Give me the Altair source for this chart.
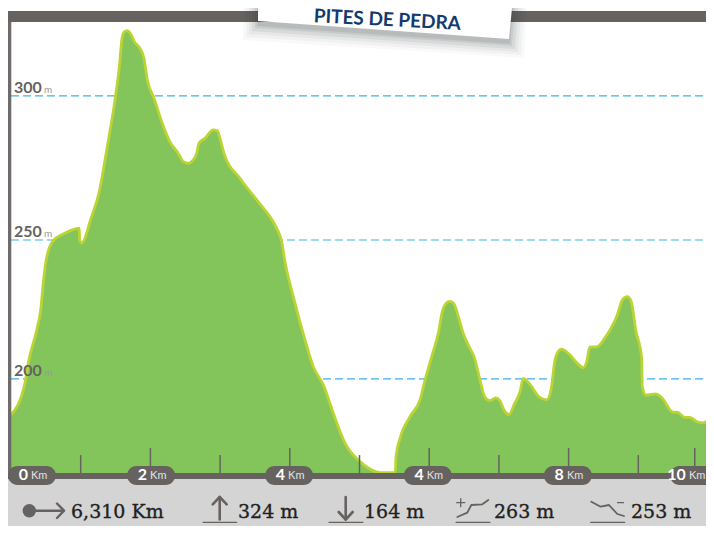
import altair as alt
import pandas as pd

# Elevation profile
km = [0.0,.201,.248,.369,.426,.463,.498,.549,.607,.750,.871,.980,.984,1.014,1.062,1.133,1.267,1.373,1.492,1.554,1.593,1.621,1.669,1.717,1.769,1.851,1.908,1.956,2.052,2.162,2.281,2.400,2.472,2.544,2.615,2.664,2.697,2.783,2.902,2.960,2.999,3.056,3.285,3.548,3.716,3.812,3.884,3.931,4.050,4.218,4.337,4.481,4.624,4.792,5.007,5.175,5.294,5.513,5.524,5.581,5.725,5.868,5.940,6.036,6.130,6.188,6.241,6.298,6.356,6.418,6.489,6.585,6.643,6.729,6.796,6.868,6.954,7.016,7.073,7.145,7.217,7.303,7.350,7.432,7.575,7.686,7.752,7.800,7.848,7.895,8.006,8.125,8.211,8.260,8.303,8.412,8.532,8.698,8.770,8.842,8.899,8.963,9.049,9.057,9.106,9.249,9.344,9.487,9.569,9.665,9.741,9.856,9.932,10.086]
elev = [187.3,198.6,205.6,217.3,224.4,233.9,241.0,246.3,248.8,251.2,252.6,253.3,249.1,248.0,249.8,255.6,266.2,280.9,298.6,310.3,320.4,322.5,323.1,321.9,319.2,316.8,313.3,305.6,299.2,290.9,283.8,279.7,276.8,276.2,277.4,279.7,283.3,285.0,288.0,287.7,285.0,279.7,270.9,262.6,257.3,253.2,248.5,241.4,229.1,213.8,204.3,197.9,187.9,177.3,170.8,167.8,166.9,166.9,172.5,179.0,186.7,192.6,199.6,207.9,216.1,223.8,226.7,227.4,226.5,222.0,216.1,210.8,207.9,199.6,193.7,192.3,193.3,192.3,189.0,187.4,190.8,195.5,200.2,198.5,193.7,192.6,196.7,206.1,209.6,210.5,208.8,205.5,204.0,206.1,211.2,211.4,214.9,222.6,227.9,229.1,227.3,217.3,207.3,197.3,194.3,194.7,193.2,188.4,188.2,186.4,186.4,184.7,184.5,188.4]

grid_values = [300, 249.1, 200]
grid_labels = ["300", "250", "200"]
tick_km = [1, 2, 3, 4, 5, 6, 7, 8, 9, 9.81]
tick_top = [173.1, 175.6, 173.1, 175.6, 173.1, 175.6, 173.1, 175.6, 173.1, 175.6]
pill_km = [0.30, 2.01, 3.99, 5.98, 7.99, 9.80]
pill_text = ["0", "2", "4", "4", "8", "10"]
stat_text = ["6,310 Km", "324 m", "164 m", "263 m", "253 m"]
stat_km = [0.861, 3.257, 5.065, 6.930, 8.895]
title_text = "PITES DE PEDRA"

FILL, LINE = "#84C55B", "#BBD433"
GREY, BLUE = "#666260", "#3FB0E3"

W, H = 698, 518
PAGE_R, PAGE_B = 8 + W, 8 + H
XD = [(8 - 11) / 69.7, (PAGE_R - 11) / 69.7]
YD = [333.9 - PAGE_B / 2.83, 333.9 - 8 / 2.83]
X = lambda f: alt.X(f, type="quantitative", scale=alt.Scale(domain=XD, nice=False), axis=None)
Y = lambda f: alt.Y(f, type="quantitative", scale=alt.Scale(domain=YD, nice=False), axis=None)
K = lambda x: (x - 11) / 69.7
M = lambda y: 333.9 - y / 2.83


def poly_line(pts, color=GREY, w=2.0):
    df = pd.DataFrame({"x": [K(p[0]) for p in pts], "y": [M(p[1]) for p in pts], "o": range(len(pts))})
    return alt.Chart(df).mark_line(color=color, strokeWidth=w, strokeCap="round", strokeJoin="round").encode(
        x=X("x"), y=Y("y"), order="o:Q")


def box(x0, x1, y0, y1, color, opacity=1.0):
    df = pd.DataFrame({"x": [K(x0)], "x2": [K(x1)], "y": [M(y0)], "y2": [M(y1)]})
    return alt.Chart(df).mark_rect(color=color, opacity=opacity).encode(x=X("x"), x2="x2", y=Y("y"), y2="y2")


def ticket(e, dy, color, opacity=1.0):
    df = pd.DataFrame({
        "x": [K(258 - e), K(509 + e), K(512 + e)],
        "y": [M(21 + e + dy), M(39 + e + dy), M(8)],
        "y2": [M(8), M(8), M(8)],
    })
    return alt.Chart(df).mark_area(color=color, opacity=opacity).encode(x=X("x"), y=Y("y"), y2="y2")


prof = pd.DataFrame({"km": km, "elev": elev, "base": [166.0] * len(km)})
gdf = pd.DataFrame({"v": grid_values, "t": grid_labels, "x": [K(11)] * 3, "x2": [K(PAGE_R)] * 3, "lx": [K(14)] * 3, "ux": [K(44)] * 3, "u": ["m"] * 3})
tdf = pd.DataFrame({"k": tick_km, "top": tick_top, "bot": [166.0] * len(tick_km)})
label_km = pill_km[:-1] + [9.74]
pdf = pd.DataFrame({"k": pill_km, "lk": label_km, "t": pill_text, "u": ["Km"] * 6, "y": [165.9] * 6})
sdf = pd.DataFrame({"k": stat_km, "t": stat_text, "y": [M(518)] * 5})
tt = pd.DataFrame({"k": [K(387)], "y": [M(26)], "t": [title_text]})

layers = [
    alt.Chart(gdf).mark_rule(color=BLUE, strokeWidth=1.2, strokeDash=[8, 4]).encode(x=X("x"), x2="x2", y=Y("v")),
    alt.Chart(prof).mark_area(color=FILL, interpolate="monotone", clip=True).encode(x=X("km"), y=Y("elev"), y2="base"),
    alt.Chart(prof).mark_line(color=LINE, strokeWidth=2.8, interpolate="monotone", clip=True).encode(x=X("km"), y=Y("elev")),
    box(8, 11.3, 11, 476, "#6F6B6A"),
    alt.Chart(tdf).mark_rule(color=GREY, strokeWidth=1.5).encode(x=X("k"), y=Y("top"), y2="bot"),
    box(8, PAGE_R, 11, 22, GREY),
    box(8, PAGE_R, 479, PAGE_B, "#D4D4D4"),
    box(8, PAGE_R, 473, 479, GREY),
    alt.Chart(pdf).mark_rect(color=GREY, width=48, height=19, cornerRadius=9.5, clip=True).encode(x=X("k"), y=Y("y")),
    alt.Chart(pdf).mark_text(font="Lato", fontWeight="bold", fontSize=16, color="white", align="right", baseline="middle", dx=-4).encode(x=X("lk"), y=Y("y"), text="t:N"),
    alt.Chart(pdf).mark_text(font="Lato", fontSize=11, color="#E2E2E2", align="left", baseline="middle", dx=-1, dy=1).encode(x=X("lk"), y=Y("y"), text="u:N"),
    alt.Chart(gdf).mark_text(font="Lato", fontWeight="bold", fontSize=16, color=GREY, align="left", baseline="middle", dy=-8).encode(x=X("lx"), y=Y("v"), text="t:N"),
    alt.Chart(gdf).mark_text(font="Lato", fontSize=10, color="#999999", align="left", baseline="middle", dy=-6).encode(x=X("ux"), y=Y("v"), text="u:N"),
    alt.Chart(sdf).mark_text(font="DejaVu Serif", fontSize=19, color="#231F20", stroke="#231F20", strokeWidth=0.35, align="left", baseline="alphabetic").encode(x=X("k"), y=Y("y"), text="t:N"),
    # distance icon
    alt.Chart(pd.DataFrame({"x": [K(29.3)], "y": [M(510.7)]})).mark_circle(color=GREY, size=180, opacity=1).encode(x=X("x"), y=Y("y")),
    poly_line([(30, 510.7), (63.5, 510.7)], w=2.4),
    poly_line([(57, 503.5), (64, 510.7), (57, 518)], w=2.4),
    # ascent icon
    poly_line([(219.7, 497), (219.7, 519.5)], w=2.6),
    poly_line([(212.7, 504.3), (219.7, 497), (226.7, 504.3)], w=2.6),
    poly_line([(203, 522.3), (236.7, 522.3)], w=1.2),
    # descent icon
    poly_line([(345.7, 497), (345.7, 519.5)], w=2.6),
    poly_line([(338.7, 512), (345.7, 519.5), (352.7, 512)], w=2.6),
    poly_line([(329, 522.3), (363, 522.3)], w=1.2),
    # accumulated climb icon
    poly_line([(457.3, 517), (467.3, 512.7), (471.3, 505), (482.3, 504.3), (488.3, 500)], w=1.8),
    poly_line([(456.7, 502.7), (464.7, 502.7)], w=1.3),
    poly_line([(460.7, 498.7), (460.7, 506.7)], w=1.3),
    poly_line([(456, 522.3), (490, 522.3)], w=1.2),
    # accumulated descent icon
    poly_line([(591.3, 501.7), (600.7, 506.7), (609, 505), (617.3, 514), (624, 516)], w=1.8),
    poly_line([(617.5, 502.7), (623.5, 502.7)], w=1.3),
    poly_line([(590.7, 522.3), (624.7, 522.3)], w=1.2),
]
# title card and its soft shadow
for e, a in [(15, .03), (12, .04), (9, .05), (6, .07), (3, .09), (1, .1)]:
    layers.append(ticket(e, 4, "#30343C", a))
layers.append(ticket(0, 0, "white"))
layers.append(alt.Chart(tt).mark_text(font="Lato", fontWeight="bold", fontSize=19, color="#123A6E", angle=3, align="center", baseline="alphabetic").encode(x=X("k"), y=Y("y"), text="t:N"))

chart = alt.layer(*layers).properties(
    width=W, height=H, padding=0, background="white",
    autosize=alt.AutoSizeParams(type="none"),
).configure_view(stroke=None)

chart.save("out.html", embed_options={"renderer": "svg", "actions": False})
